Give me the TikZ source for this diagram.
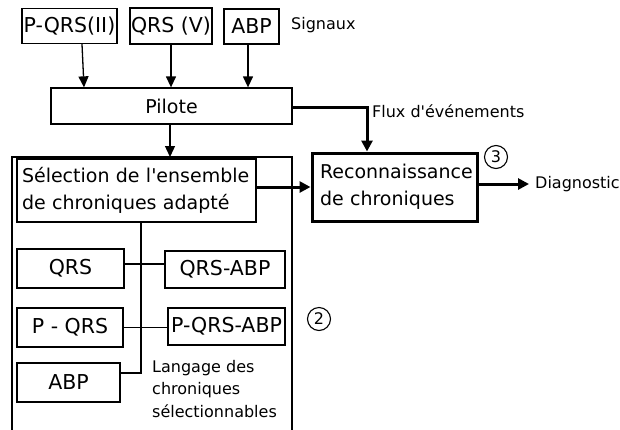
\documentclass[tikz,border=0pt]{standalone}
\usepackage{fontspec}
\setmainfont{DejaVu Sans}
\usetikzlibrary{arrows.meta}
\begin{document}
\begin{tikzpicture}[x=1pt,y=-1pt,
  thinline/.style={line width=1.3pt},
  box/.style={draw,line width=1.3pt,inner sep=0pt,font=\fontsize{19}{27}\selectfont},
  capbox/.style={box,font=\fontsize{20.5}{25}\selectfont},
  arr/.style={line width=1.3pt,-{Triangle[length=11pt,width=10pt]}},
  thickarr/.style={line width=3pt,-{Triangle[length=11pt,width=11pt]}},
  note/.style={font=\fontsize{16}{22.5}\selectfont,inner sep=0pt,anchor=west,align=left},
  num/.style={draw,circle,line width=1.1pt,minimum size=23pt,inner sep=0pt,font=\fontsize{16}{18}\selectfont}]
\useasboundingbox (0,0) rectangle (620,429);
% top signal boxes
\node[capbox,minimum width=95pt,minimum height=35pt] (pqrsii) at (69.5,26) {P-QRS(II)};
\node[capbox,minimum width=82pt,minimum height=36pt] (qrsv) at (171,26) {QRS (V)};
\node[capbox,minimum width=55pt,minimum height=35pt] (abpt) at (251.5,26.5) {ABP};
\node[note] (sig) at (291,25) {Signaux};
% pilote
\node[box,minimum width=241pt,minimum height=36pt] (pilote) at (171.5,106) {Pilote};
% outer frame
\coordinate (fbl) at (12,432);
\coordinate (ftl) at (12,157);
\coordinate (ftr) at (292,157);
\coordinate (fbr) at (292,432);
\draw[thinline] (fbl) -- (ftl) -- (ftr) -- (fbr);
% selection
\node[box,text width=229pt,inner xsep=5pt,align=left,minimum height=63pt] (sel) at (136.5,190.5) {Sélection de l\textquotesingle ensemble\\de chroniques adapté};
% reconnaissance
\node[box,line width=3pt,text width=149pt,inner xsep=8pt,align=left,minimum height=68pt] (recon) at (394.5,187) {Reconnaissance\\de chroniques};
\node[num] (n3) at (496,157) {3};
\node[note] (flux) at (372,111) {Flux d\textquotesingle événements};
\node[note] (diag) at (535,184) {Diagnostic};
% inner boxes
\node[capbox,minimum width=107pt,minimum height=39pt] (qrs) at (70.5,268.5) {QRS};
\node[capbox,minimum width=120pt,minimum height=37pt] (qrsabp) at (225,269.5) {QRS-ABP};
\node[capbox,minimum width=106pt,minimum height=39pt] (pqrs) at (70,327.5) {P - QRS};
\node[capbox,minimum width=117pt,minimum height=37pt] (pqrsabp) at (226.5,326.5) {P-QRS-ABP};
\node[capbox,minimum width=103pt,minimum height=39pt] (abp) at (68.5,382.5) {ABP};
\node[num] (n2) at (319,319) {2};
\node[note] (lang) at (152,389) {Langage des\\chroniques\\sélectionnables};
% arrows
\draw[arr] ([xshift=12.5pt]pqrsii.south) -- ([xshift=-87.5pt]pilote.north);
\draw[arr] (qrsv.south) -- (qrsv.south |- pilote.north);
\coordinate (abps) at ([xshift=-3.5pt]abpt.south);
\draw[arr] (abps) -- (abps |- pilote.north);
\coordinate (pils) at ([xshift=-1.5pt]pilote.south);
\draw[arr] (pils) -- (pils |- ftl);
\draw[thickarr] (recon.west -| sel.east) -- (recon.west);
\draw[thickarr] ([yshift=-1pt]pilote.east) -| ([xshift=-27.5pt]recon.north);
\draw[thickarr] ([yshift=3pt]recon.east) -- ([xshift=-6pt]diag.west);
% tree
\coordinate (tr) at ([xshift=4.5pt]sel.south);
\coordinate (ae) at ([yshift=9.5pt]abp.east);
\draw[thinline] (tr) |- (ae);
\coordinate (q1) at ([yshift=4.5pt]qrs.east);
\draw[thinline] (q1) -- (q1 -| qrsabp.west);
\draw[thinline] (pqrs.east) -- (pqrs.east -| pqrsabp.west);
\end{tikzpicture}
\end{document}
